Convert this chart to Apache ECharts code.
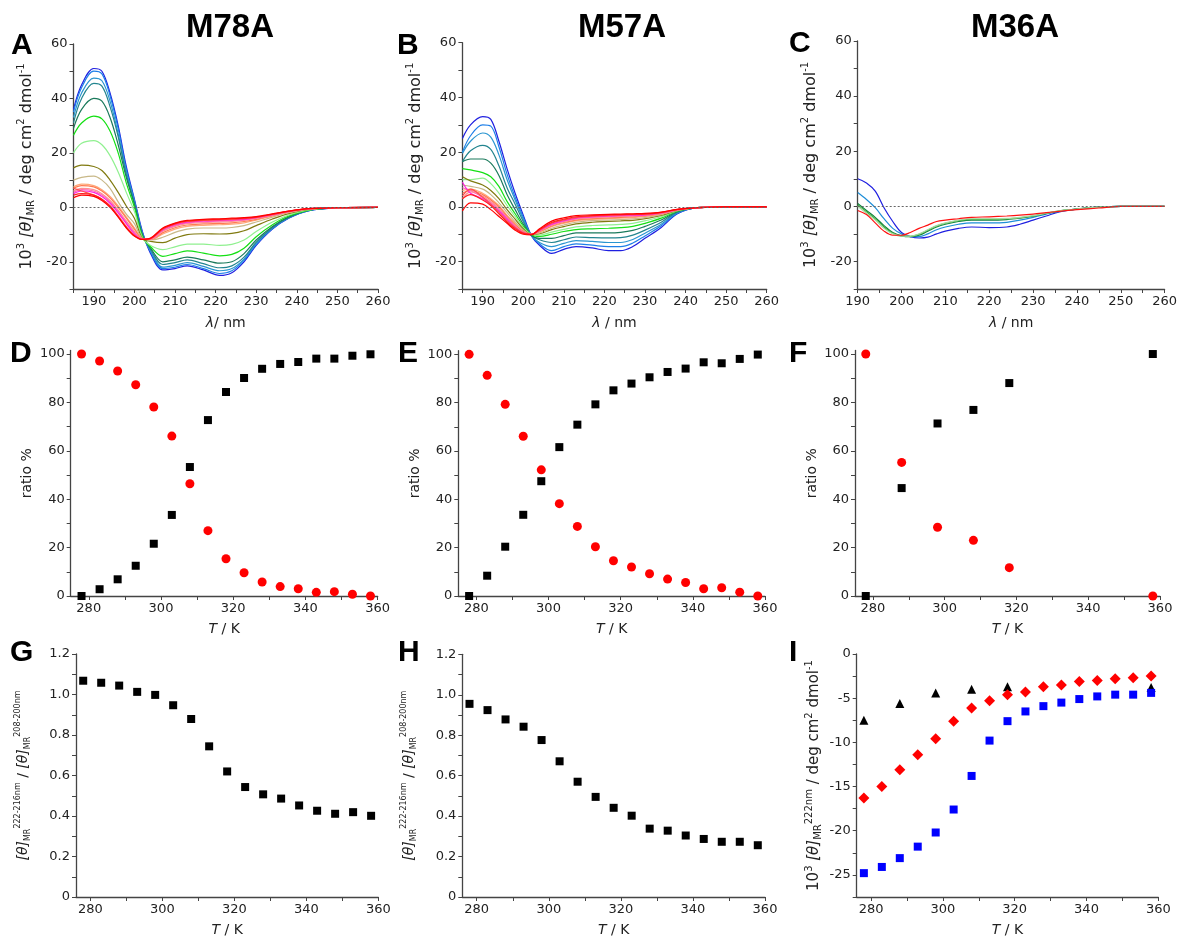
<!DOCTYPE html>
<html><head><meta charset="utf-8">
<script src="https://cdn.jsdelivr.net/npm/echarts@6/dist/echarts.min.js"></script>
<style>html,body{margin:0;padding:0;background:#fff}#c{width:1180px;height:938px}</style>
</head><body><div id="c"></div>
<script>
// ---------- DATA ----------
const WL = [185,187,190,192,194,196,198,200,202,204,207,210,213,217,221,224,227,230,234,238,243,250,260];
const WL_C = [190,192,194,196,198,200,202,204,206,208,210,213,216,220,224,227,230,233,236,240,245,250,260];
const curveColors = ['#1f1fe0','#1e7fe8','#2a95d0','#23858f','#1b7a5c','#14e014','#90f090','#807a10','#c8b888','#ffa878','#ff7a50','#ff9090','#ff70b0','#ff20e0','#ff5050','#ff2020','#ff0000'];
const curveColorsC = ['#1f1fe0','#1e8ed8','#108040','#40b040','#a8d8a0','#ff1010'];

// M78A spectra (10^3 deg cm2 dmol-1), 278 K ... 358 K
const specA = [
 [36,45,51,50,42,30,15,3,-9,-17,-23,-22.5,-21.5,-23,-25,-24,-20,-14,-8,-4,-1.2,-0.2,0],
 [35,44,50,49,41,29,14,2.5,-9.5,-16.5,-22.5,-22,-21,-22.5,-24.3,-23.3,-19.5,-13.6,-7.8,-3.9,-1.2,-0.2,0],
 [33,42,47.5,46.5,39,27,13,2,-9.8,-16,-22,-21.3,-20.3,-21.7,-23.3,-22.5,-19,-13.2,-7.6,-3.8,-1.1,-0.2,0],
 [31,40,45.5,44.5,37,26,12,1.5,-10,-15.5,-21,-20.3,-19.3,-20.7,-22.2,-21.5,-18.3,-12.8,-7.4,-3.7,-1.1,-0.2,0],
 [29,36,40,39,33,23,11,1,-10.3,-15,-20,-19.3,-18.3,-19.3,-20.5,-20,-17,-12,-7,-3.5,-1,-0.2,0],
 [26.5,31,33.5,32.5,28,20,9,0,-10.8,-14.5,-18,-17,-16,-16.8,-17.8,-17.3,-15,-10.8,-6.4,-3.2,-1,-0.2,0],
 [20,23.5,24.5,23,19,13,5.5,-1.5,-11.2,-14,-15.5,-14.5,-13.5,-13.5,-14,-13.6,-12,-8.9,-5.4,-2.8,-0.9,-0.2,0],
 [14.5,15.5,15,13.5,10,5.5,0.5,-4,-11.5,-12.5,-13,-11.3,-10,-9.7,-9.8,-9.6,-8.6,-6.7,-4.3,-2.3,-0.8,-0.1,0],
 [10,11,11.5,10,7,2,-2.5,-6,-11.5,-12,-11,-9.2,-8,-7.6,-7.6,-7.4,-6.7,-5.4,-3.6,-2,-0.7,-0.1,0],
 [7.5,8.5,8,6.5,4,0.5,-3.5,-7.5,-11.6,-11.8,-9.8,-8,-7,-6.6,-6.4,-6.2,-5.7,-4.7,-3.2,-1.8,-0.6,-0.1,0],
 [7,8,7.5,6,3.5,0,-4,-8,-11.6,-11.8,-9.3,-7.5,-6.5,-6.1,-5.9,-5.7,-5.2,-4.4,-3,-1.7,-0.6,-0.1,0],
 [6,7,6.5,5,2.5,-1,-5,-8.8,-11.7,-11.7,-8.8,-7,-6,-5.6,-5.4,-5.2,-4.8,-4.1,-2.9,-1.6,-0.6,-0.1,0],
 [5.5,6.5,6,4.5,2,-1.5,-5.5,-9.3,-11.7,-11.6,-8.5,-6.7,-5.7,-5.3,-5.1,-4.9,-4.6,-3.9,-2.8,-1.6,-0.5,-0.1,0],
 [5,6,5.5,4,1.5,-2,-6,-9.8,-11.8,-11.5,-8.2,-6.4,-5.4,-5,-4.8,-4.6,-4.4,-3.8,-2.7,-1.5,-0.5,-0.1,0],
 [7,6,4.5,3,0.5,-3,-7,-10.2,-11.8,-11.5,-8,-6.2,-5.2,-4.8,-4.6,-4.4,-4.2,-3.7,-2.6,-1.5,-0.5,-0.1,0],
 [4.5,5,4.5,3,0.5,-3.5,-7.5,-10.5,-11.8,-11.4,-7.8,-6,-5,-4.6,-4.4,-4.2,-4,-3.6,-2.5,-1.4,-0.5,-0.1,0],
 [3.5,4.5,4,2.5,0,-3.5,-7.5,-10.5,-11.8,-11.3,-7.6,-5.8,-4.8,-4.4,-4.2,-4,-3.8,-3.4,-2.4,-1.4,-0.5,-0.1,0]
];
// M57A spectra
const specB = [
 [25,30,33,32,24,14,5,-3,-10.5,-14,-17,-15.5,-14.5,-15,-16,-16,-14.5,-11.5,-7.5,-2.5,-0.3,0,0],
 [20,26,30,29.5,22,12,3.5,-3.8,-10.5,-13.5,-16,-14.5,-13.5,-14,-14.5,-14.5,-13.2,-10.6,-6.9,-2.3,-0.3,0,0],
 [19.5,24,27,25.5,19,10,2.5,-4.5,-10.5,-13,-14.5,-13.3,-12.3,-12.6,-13,-13,-11.9,-9.6,-6.3,-2.1,-0.3,0,0],
 [16.5,20.5,22.5,21,15,7,1,-5.3,-10.3,-12,-13,-12,-11,-11.2,-11.3,-11.2,-10.3,-8.5,-5.6,-1.9,-0.3,0,0],
 [16.5,17.5,17.5,16,11.5,4.5,-1,-6.3,-10.3,-11.5,-11.5,-10.5,-9.5,-9.5,-9.5,-9.3,-8.6,-7.1,-4.8,-1.7,-0.3,0,0],
 [14,13.5,12.5,11,7.5,2,-2.5,-7,-10.2,-10.8,-10,-9,-8.3,-8,-7.8,-7.6,-7.1,-6,-4.1,-1.5,-0.3,0,0],
 [10,10,10.5,8.5,5,0.5,-3.5,-7.5,-10,-10.3,-9.2,-8.2,-7.3,-6.8,-6.6,-6.4,-6,-5.1,-3.6,-1.4,-0.3,0,0],
 [11,9.5,8,6,3,-1,-4.5,-8,-10,-9.8,-8.3,-7.2,-6.2,-5.6,-5.3,-5.1,-4.9,-4.3,-3.1,-1.3,-0.3,0,0],
 [8,7.5,6.5,4.5,1.5,-2,-5.5,-8.5,-10,-9.5,-7.8,-6.6,-5.6,-5,-4.8,-4.6,-4.4,-3.9,-2.8,-1.2,-0.3,0,0],
 [6,6.5,5,3,0.5,-3,-6,-9,-10,-9.2,-7.2,-6,-5.1,-4.6,-4.3,-4.1,-3.9,-3.5,-2.6,-1.1,-0.3,0,0],
 [5,6,4.5,2.5,0,-3.5,-6.5,-9,-10,-9,-7,-5.7,-4.8,-4.3,-4,-3.8,-3.6,-3.3,-2.5,-1.1,-0.3,0,0],
 [3,5.5,4,2,-0.5,-4,-7,-9.3,-10,-8.8,-6.7,-5.4,-4.5,-4,-3.7,-3.5,-3.4,-3.1,-2.4,-1,-0.3,0,0],
 [7,6,3.5,1.5,-1,-4,-7,-9.3,-10,-8.7,-6.5,-5.2,-4.3,-3.8,-3.5,-3.3,-3.2,-3,-2.3,-1,-0.3,0,0],
 [9,5,3,1,-1.5,-4.5,-7.5,-9.5,-10,-8.6,-6.3,-5,-4.1,-3.6,-3.3,-3.1,-3,-2.9,-2.2,-1,-0.3,0,0],
 [4,6.5,3.5,1,-2,-5,-7.5,-9.5,-10,-8.5,-6,-4.8,-3.9,-3.4,-3.1,-2.9,-2.8,-2.7,-2.1,-1,-0.3,0,0],
 [3,4.5,2.5,0.5,-2.5,-5.5,-8,-9.7,-10,-8.3,-5.7,-4.5,-3.6,-3.2,-2.9,-2.8,-2.7,-2.6,-2,-0.9,-0.3,0,0],
 [-1.5,1.5,1,-1,-3.5,-6,-8.5,-10,-10.2,-8,-5.2,-4,-3.2,-2.9,-2.7,-2.6,-2.5,-2.4,-1.9,-0.9,-0.3,0,0]
];
// M36A spectra
const specC = [
 [10,8.5,5.5,-0.5,-5.5,-9.5,-11,-11.5,-11.2,-10,-9,-8,-7.5,-7.7,-7.5,-6.5,-5,-3.5,-2,-1,-0.3,0,0],
 [5,2.5,-0.5,-4.5,-8,-10,-11,-11,-10,-8.5,-7.5,-6.5,-6,-6,-5.8,-5,-4,-2.8,-1.8,-1,-0.3,0,0],
 [1,-1.5,-4,-7,-9.5,-10.7,-11,-10.5,-9,-7.5,-6.5,-5.5,-5,-5,-4.8,-4.3,-3.6,-2.6,-1.7,-1,-0.3,0,0],
 [0.5,-2,-4.5,-7.5,-9.8,-10.8,-10.9,-10.2,-8.7,-7.2,-6.2,-5.2,-4.7,-4.7,-4.6,-4.1,-3.5,-2.5,-1.6,-1,-0.3,0,0],
 [0,-2.5,-5,-8,-10,-10.8,-10.8,-10,-8.5,-7,-6,-5,-4.5,-4.5,-4.4,-4,-3.4,-2.5,-1.6,-1,-0.3,0,0],
 [-1.5,-3,-6,-9,-10.5,-10.5,-9.5,-8,-6.8,-5.5,-5,-4.5,-4,-3.8,-3.5,-3.2,-2.8,-2.3,-1.8,-1.2,-0.6,0,0]
];

const temps = [278,283,288,293,298,303,308,313,318,323,328,333,338,343,348,353,358];
const tempsF = [278,288,298,308,318,358];
// D (M78A) ratio %
const D_sq = [0,2.8,6.9,12.5,21.6,33.5,53.3,72.7,84.3,90.1,93.9,95.9,96.7,98.1,98.1,99.3,99.9];
const D_ci = [100,97.1,93,87.3,78.1,66.1,46.4,27,15.4,9.6,5.8,3.9,3,1.5,1.8,0.7,0];
// E (M57A)
const E_sq = [0,8.4,20.4,33.6,47.5,61.6,70.9,79.3,85.1,87.9,90.5,92.7,94.1,96.7,96.3,98.1,99.9];
const E_ci = [100,91.3,79.3,66.1,52.2,38.2,28.8,20.4,14.6,12,9.2,7,5.6,3,3.4,1.6,0];
// F (M36A)
const F_sq = [0,44.6,71.3,76.9,88,100];
const F_ci = [100,55.2,28.4,23,11.7,0];
// G, H ratios
const G_sq = [1.068,1.058,1.044,1.013,0.998,0.947,0.879,0.744,0.620,0.543,0.507,0.486,0.452,0.426,0.411,0.419,0.401];
const H_sq = [0.955,0.924,0.878,0.842,0.776,0.671,0.570,0.495,0.441,0.402,0.338,0.328,0.304,0.287,0.273,0.273,0.256];
// I: [theta]222
const I_blue = [-24.8,-24.1,-23.1,-21.8,-20.2,-17.6,-13.8,-9.8,-7.6,-6.5,-5.9,-5.5,-5.1,-4.8,-4.6,-4.6,-4.4];
const I_red = [-16.3,-15.0,-13.1,-11.4,-9.6,-7.6,-6.1,-5.3,-4.6,-4.3,-3.7,-3.5,-3.1,-3.0,-2.8,-2.7,-2.5];
const I_tri = [-7.5,-5.6,-4.4,-4.0,-3.7,-3.8];

// tick values
const tickSpecX = [185,190,195,200,205,210,215,220,225,230,235,240,245,250,255,260];
const labSpecX = [190,200,210,220,230,240,250,260];
const tickSpecY = [-30,-20,-10,0,10,20,30,40,50,60];
const labSpecY = [-20,0,20,40,60];
const tickT = [280,290,300,310,320,330,340,350,360];
const labT = [280,300,320,340,360];
const tickPct = [0,10,20,30,40,50,60,70,80,90,100];
const labPct = [0,20,40,60,80,100];
const tickRat = [0,0.1,0.2,0.3,0.4,0.5,0.6,0.7,0.8,0.9,1.0,1.1,1.2];
const labRat = [0,0.2,0.4,0.6,0.8,1.0,1.2];
const tickI = [-27.5,-25,-22.5,-20,-17.5,-15,-12.5,-10,-7.5,-5,-2.5,0];
const labI = [-25,-20,-15,-10,-5,0];

// ---------- CHART ----------
const FONT = 'DejaVu Sans';
const grids = [
 {left:73.5, top:44, width:304.5, height:245},
 {left:462.4, top:42.7, width:304.3, height:246.3},
 {left:857.7, top:41, width:307.3, height:248},
 {left:70.7, top:350.4, width:307, height:245.6},
 {left:458.3, top:350.7, width:306.7, height:245.3},
 {left:855, top:350.4, width:305, height:245.6},
 {left:76, top:654, width:302.3, height:245.3},
 {left:462.3, top:654.3, width:302.7, height:245},
 {left:856.7, top:654, width:301.6, height:245.3}
];
function richSized(fs, fss){
  return {
    n:{fontSize:fs, fontFamily:FONT, color:'#222', lineHeight:fs+4},
    i:{fontSize:fs, fontFamily:FONT, fontStyle:'italic', color:'#222', lineHeight:fs+4},
    sup:{fontSize:fss, fontFamily:FONT, color:'#222', lineHeight:fss+1, verticalAlign:'top'},
    sub:{fontSize:fss, fontFamily:FONT, color:'#222', lineHeight:fss+1, verticalAlign:'bottom'}
  };
}
const richBase = richSized(14, 9);
function ax(g, min, max, labs, ticks, fmt, name, gap, rich, isY){
  const a = {
    type:'value', gridIndex:g, min:min, max:max,
    splitLine:{show:false},
    axisLine:{show:true, onZero:false, lineStyle:{color:'#444', width:1.3}},
    axisTick:{show:true, inside:false, length:4, customValues:ticks, lineStyle:{color:'#444', width:1}},
    minorTick:{show:false},
    axisLabel:{customValues:labs, fontSize:13, color:'#222', fontFamily:FONT, margin:6},
    name:name, nameLocation:'middle', nameGap:gap,
    nameTextStyle:{rich:rich, fontSize:14, fontFamily:FONT, color:'#222'}
  };
  if (fmt) a.axisLabel.formatter = fmt;
  if (isY) a.nameRotate = 90;
  return a;
}
const specYName = '{n|10}{sup|3}{n| }{i|[θ]}{sub|MR}{n| / deg cm}{sup|2}{n| dmol}{sup|-1}';
const ratYName = '{i|[θ]}{sub|MR}{sup|222-216nm}{n| / }{i|[θ]}{sub|MR}{sup|208-200nm}';
const iYName = '{n|10}{sup|3}{n| }{i|[θ]}{sub|MR}{sup|222nm}{n| / deg cm}{sup|2}{n| dmol}{sup|-1}';
const TName = '{i|T}{n| / K}';
const ratFmt = v => v === 0 ? '0' : v.toFixed(1);

const xAxis = [
  ax(0,185,260,labSpecX,tickSpecX,null,'{i|λ}{n|/ nm}',25,richBase,false),
  ax(1,185,260,labSpecX,tickSpecX,null,'{i|λ}{n| / nm}',25,richBase,false),
  ax(2,190,260,labSpecX,tickSpecX.filter(v=>v>=190),null,'{i|λ}{n| / nm}',25,richBase,false),
  ax(3,275,360,labT,tickT,null,TName,24,richBase,false),
  ax(4,275,360,labT,tickT,null,TName,24,richBase,false),
  ax(5,275,360,labT,tickT,null,TName,24,richBase,false),
  ax(6,276,360,labT,tickT,null,TName,24,richBase,false),
  ax(7,276,360,labT,tickT,null,TName,24,richBase,false),
  ax(8,276,360,labT,tickT,null,TName,24,richBase,false)
];
const yAxis = [
  ax(0,-30,60,labSpecY,tickSpecY,null,specYName,37,richSized(16,10),true),
  ax(1,-30,60,labSpecY,tickSpecY,null,specYName,37,richSized(16,10),true),
  ax(2,-30,60,labSpecY,tickSpecY,null,specYName,37,richSized(16,10),true),
  ax(3,0,101.5,labPct,tickPct,null,'{n|ratio %}',34,richBase,true),
  ax(4,0,101.5,labPct,tickPct,null,'{n|ratio %}',34,richBase,true),
  ax(5,0,101.5,labPct,tickPct,null,'{n|ratio %}',34,richBase,true),
  ax(6,0,1.2,labRat,tickRat,ratFmt,ratYName,44,richSized(14,8),true),
  ax(7,0,1.2,labRat,tickRat,ratFmt,ratYName,44,richSized(14,8),true),
  ax(8,-27.5,0,labI,tickI,null,iYName,33,richSized(15,10),true)
];

const series = [];
function specSeries(spec, wl, cols, idx){
  spec.forEach((row, k) => {
    const s = {
      type:'line', xAxisIndex:idx, yAxisIndex:idx,
      data: wl.map((w, j) => [w, row[j]]),
      smooth:0.35, showSymbol:false, symbol:'none',
      lineStyle:{width:1.2, color:cols[k]}, itemStyle:{color:cols[k]},
      silent:true
    };
    if (k === 0) {
      s.markLine = {silent:true, symbol:'none', label:{show:false},
        lineStyle:{type:[2,2], color:'#666', width:1.2}, data:[{yAxis:0}]};
    }
    series.push(s);
  });
}
specSeries(specA, WL, curveColors, 0);
specSeries(specB, WL, curveColors, 1);
specSeries(specC, WL_C, curveColorsC, 2);

function sc(idx, xs, ys, symbol, size, color){
  series.push({type:'scatter', xAxisIndex:idx, yAxisIndex:idx, clip:false,
    data: xs.map((t, j) => [t, ys[j]]), symbol:symbol, symbolSize:size,
    itemStyle:{color:color, opacity:1}, silent:true});
}
sc(3, temps, D_sq, 'rect', 8, '#000');
sc(3, temps, D_ci, 'circle', 9, '#ff0000');
sc(4, temps, E_sq, 'rect', 8, '#000');
sc(4, temps, E_ci, 'circle', 9, '#ff0000');
sc(5, tempsF, F_sq, 'rect', 8, '#000');
sc(5, tempsF, F_ci, 'circle', 9, '#ff0000');
sc(6, temps, G_sq, 'rect', 8, '#000');
sc(7, temps, H_sq, 'rect', 8, '#000');
sc(8, tempsF, I_tri, 'triangle', 9, '#000');
sc(8, temps, I_red, 'diamond', 11, '#ff0000');
sc(8, temps, I_blue, 'rect', 8, '#0000ff');

function txt(x, y, s, size){
  return {type:'text', x:x, y:y, silent:true,
    style:{text:s, font:'bold '+size+'px "Liberation Sans", Arial, sans-serif', fill:'#000',
      textAlign:'left', textVerticalAlign:'middle', align:'left', verticalAlign:'middle'}};
}
function ttl(x, y, s){
  return {type:'text', x:x, y:y, silent:true,
    style:{text:s, font:'bold 33px "Liberation Sans", Arial, sans-serif', fill:'#000',
      textAlign:'center', textVerticalAlign:'middle', align:'center', verticalAlign:'middle'}};
}
const graphic = [
  ttl(230, 28, 'M78A'), ttl(622, 28, 'M57A'), ttl(1015, 28, 'M36A'),
  txt(11, 46, 'A', 30), txt(397, 46, 'B', 30), txt(789, 44, 'C', 30),
  txt(10, 354, 'D', 30), txt(398, 354, 'E', 30), txt(789, 354, 'F', 30),
  txt(10, 653, 'G', 30), txt(398, 653, 'H', 30), txt(789, 653, 'I', 30)
];

const chart = echarts.init(document.getElementById('c'), null, {renderer:'canvas', width:1180, height:938});
chart.setOption({
  animation:false, backgroundColor:'#fff',
  grid: grids, xAxis: xAxis, yAxis: yAxis, series: series, graphic: graphic
});
</script></body></html>
